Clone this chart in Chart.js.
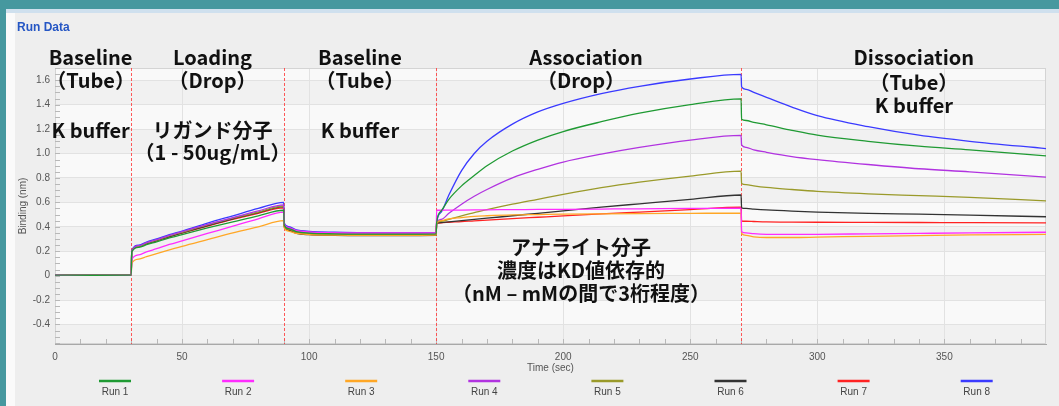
<!DOCTYPE html>
<html>
<head>
<meta charset="utf-8">
<script src="https://cdn.jsdelivr.net/npm/chart.js@4.4.0/dist/chart.umd.min.js"></script>
<style>
  html, body { margin: 0; padding: 0; }
  body { width: 1059px; height: 406px; background: #46989f; position: relative; overflow: hidden; }
  #frame { position: absolute; left: 6px; top: 9px; width: 1053px; height: 397px; background: #fafafa; }
  #topbar { position: absolute; left: 6px; top: 9px; width: 1053px; height: 4px; background: #cfe0ee; }
  #panel { position: absolute; left: 15px; top: 13px; width: 1044px; height: 393px; background: #eeeeee; }
  #title { position: absolute; left: 17px; top: 20px; font: bold 12px "Liberation Sans Narrow", Arial, sans-serif; color: #2556c4; }
  #myChart { position: absolute; left: 0; top: 0; }
</style>
</head>
<body>
<div id="frame"></div>
<div id="topbar"></div>
<div id="panel"><canvas id="myChart" width="1044" height="393"></canvas></div>
<div id="title">Run Data</div>

<script>
// time axis (sec), shared by every run
const tiempos = [0, 15, 30,
  30.2, 33, 36, 40, 45, 50, 60, 70, 80, 90,
  90.2, 92, 95, 100, 110, 120, 135, 150,
  150.2, 152, 155, 160, 165, 170, 180, 190, 200, 215, 230, 250, 270,
  270.2, 272, 275, 280, 290, 300, 320, 340, 360, 390];

const run1 = [0.004, 0.003, 0.004,
  0.195, 0.232, 0.253, 0.277, 0.308, 0.336, 0.39, 0.44, 0.49, 0.535,
  0.415, 0.385, 0.36, 0.348, 0.342, 0.34, 0.34, 0.342,
  0.435, 0.53, 0.625, 0.735, 0.82, 0.9, 1.02, 1.11, 1.18, 1.26, 1.33, 1.4, 1.448,
  1.28, 1.27, 1.255, 1.235, 1.19, 1.15, 1.1, 1.06, 1.03, 0.98];
const run2 = [0.003, 0.002, 0.003,
  0.13, 0.17, 0.195, 0.22, 0.255, 0.285, 0.345, 0.405, 0.465, 0.52,
  0.42, 0.39, 0.368, 0.356, 0.35, 0.348, 0.348, 0.35,
  0.535, 0.535, 0.536, 0.537, 0.538, 0.539, 0.54, 0.542, 0.543, 0.545, 0.547, 0.55, 0.552,
  0.36, 0.35, 0.343, 0.338, 0.337, 0.338, 0.342, 0.346, 0.35, 0.355];
const run3 = [0.002, 0.002, 0.003,
  0.1, 0.135, 0.155, 0.18, 0.21, 0.24, 0.295, 0.35, 0.4, 0.45,
  0.39, 0.365, 0.345, 0.336, 0.332, 0.33, 0.33, 0.332,
  0.43, 0.45, 0.465, 0.475, 0.485, 0.49, 0.497, 0.5, 0.503, 0.506, 0.508, 0.51, 0.512,
  0.345, 0.33, 0.318, 0.312, 0.312, 0.315, 0.322, 0.328, 0.333, 0.338];
const run4 = [0.005, 0.004, 0.005,
  0.2, 0.245, 0.27, 0.295, 0.33, 0.36, 0.42, 0.475, 0.53, 0.58,
  0.425, 0.395, 0.37, 0.358, 0.352, 0.35, 0.35, 0.352,
  0.435, 0.46, 0.51, 0.585, 0.65, 0.705, 0.8, 0.87, 0.93, 0.995, 1.05, 1.11, 1.148,
  1.07, 1.05, 1.03, 1.01, 0.975, 0.95, 0.91, 0.875, 0.85, 0.806];
const run5 = [0.004, 0.003, 0.004,
  0.2, 0.24, 0.265, 0.29, 0.325, 0.355, 0.415, 0.47, 0.52, 0.57,
  0.41, 0.38, 0.356, 0.345, 0.34, 0.338, 0.338, 0.34,
  0.435, 0.445, 0.46, 0.49, 0.515, 0.54, 0.585, 0.625, 0.665, 0.72, 0.765, 0.815, 0.855,
  0.755, 0.745, 0.735, 0.722, 0.705, 0.69, 0.67, 0.655, 0.64, 0.612];
const run6 = [0.003, 0.003, 0.003,
  0.2, 0.24, 0.262, 0.287, 0.32, 0.35, 0.41, 0.465, 0.515, 0.565,
  0.4, 0.37, 0.345, 0.335, 0.33, 0.328, 0.328, 0.33,
  0.43, 0.434, 0.44, 0.45, 0.46, 0.47, 0.49, 0.51, 0.53, 0.56, 0.588, 0.625, 0.66,
  0.555, 0.55, 0.545, 0.538, 0.528, 0.52, 0.51, 0.503, 0.495, 0.482];
const run7 = [0.004, 0.004, 0.004,
  0.2, 0.238, 0.26, 0.285, 0.318, 0.348, 0.405, 0.46, 0.51, 0.555,
  0.405, 0.375, 0.35, 0.338, 0.333, 0.331, 0.331, 0.333,
  0.43, 0.433, 0.437, 0.442, 0.449, 0.455, 0.467, 0.478, 0.489, 0.505, 0.52, 0.54, 0.56,
  0.447, 0.445, 0.443, 0.44, 0.438, 0.437, 0.436, 0.435, 0.434, 0.432];
const run8 = [0.005, 0.005, 0.005,
  0.205, 0.25, 0.275, 0.3, 0.335, 0.365, 0.43, 0.49, 0.55, 0.6,
  0.43, 0.4, 0.375, 0.362, 0.355, 0.352, 0.35, 0.35,
  0.435, 0.52, 0.66, 0.86, 1.0, 1.1, 1.24, 1.34, 1.41, 1.49, 1.55, 1.61, 1.648,
  1.545, 1.525, 1.5, 1.46, 1.38, 1.31, 1.22, 1.15, 1.1, 1.04];

const nombres = ['Run 1', 'Run 2', 'Run 3', 'Run 4', 'Run 5', 'Run 6', 'Run 7', 'Run 8'];
const colores = ['#1f9a33', '#ff2cff', '#ffa726', '#b133e0', '#9a9a2a', '#333333', '#ff2222', '#3a3aff'];
const corridas = [run1, run2, run3, run4, run5, run6, run7, run8];

// step boundaries (sec) and tick labels
const cambiosFase = [30, 90, 150, 270];
const xTicks = [0, 50, 100, 150, 200, 250, 300, 350];
const yTicks = [-0.4, -0.2, 0, 0.2, 0.4, 0.6, 0.8, 1.0, 1.2, 1.4, 1.6];

// text notes on the plot: x in sec, y in canvas px
const notas = [
  { t: 14, y: 44, txt: 'Baseline' }, { t: 14, y: 67, txt: '（Tube）' }, { t: 14, y: 117, txt: 'K buffer' },
  { t: 62, y: 44, txt: 'Loading' }, { t: 62, y: 67, txt: '（Drop）' },
  { t: 62, y: 117, txt: 'リガンド分子' }, { t: 62, y: 139, txt: '（1 - 50ug/mL）' },
  { t: 120, y: 44, txt: 'Baseline' }, { t: 120, y: 67, txt: '（Tube）' }, { t: 120, y: 117, txt: 'K buffer' },
  { t: 209, y: 44, txt: 'Association' }, { t: 207, y: 67, txt: '（Drop）' },
  { t: 338, y: 44, txt: 'Dissociation' }, { t: 338, y: 69, txt: '（Tube）' }, { t: 338, y: 92, txt: 'K buffer' },
  { t: 207, y: 234, txt: 'アナライト分子' }, { t: 207, y: 257, txt: '濃度はKD値依存的' },
  { t: 207, y: 280, txt: '（nM – mMの間で3桁程度）' }
];

const datasets = corridas.map((valores, i) => ({
  label: nombres[i],
  data: tiempos.map((t, j) => ({ x: t, y: valores[j] })),
  borderColor: colores[i],
  backgroundColor: colores[i],
  borderWidth: 1.3,
  pointRadius: 0,
  fill: false,
  cubicInterpolationMode: 'monotone'
}));

const fondoPlugin = {
  id: 'fondo',
  beforeDraw(chart) {
    const { ctx, chartArea: a, scales: { y } } = chart;
    ctx.save();
    ctx.fillStyle = '#f9f9f9';
    ctx.fillRect(a.left, a.top, a.right - a.left, a.bottom - a.top);
    ctx.fillStyle = '#f1f1f1';
    for (let v = -0.6; v < 1.7; v += 0.4) {
      const y1 = Math.max(a.top, y.getPixelForValue(v + 0.2));
      const y2 = Math.min(a.bottom, y.getPixelForValue(v));
      if (y2 > y1) ctx.fillRect(a.left, y1, a.right - a.left, y2 - y1);
    }
    ctx.restore();
  },
  beforeDatasetsDraw(chart) {
    const { ctx, chartArea: a, scales: { x, y } } = chart;
    ctx.save();
    ctx.strokeStyle = '#d4d4d4';
    ctx.lineWidth = 1;
    ctx.strokeRect(a.left + 0.5, a.top + 0.5, a.right - a.left - 1, a.bottom - a.top - 1);
    // minor ticks inside the plot
    ctx.strokeStyle = '#b8b8b8';
    ctx.beginPath();
    for (let k = -11; k <= 34; k++) {
      const py = Math.round(y.getPixelForValue(k * 0.05)) + 0.5;
      if (py < a.top || py > a.bottom) continue;
      ctx.moveTo(a.left, py);
      ctx.lineTo(a.left + 5, py);
    }
    for (let t = 10; t < 390; t += 10) {
      const px = Math.round(x.getPixelForValue(t)) + 0.5;
      ctx.moveTo(px, a.bottom);
      ctx.lineTo(px, a.bottom - 5);
    }
    ctx.stroke();
    // step boundaries
    ctx.strokeStyle = 'rgba(255, 60, 60, 0.85)';
    ctx.setLineDash([3, 2]);
    ctx.beginPath();
    cambiosFase.forEach(t => {
      const px = Math.round(x.getPixelForValue(t)) + 0.5;
      ctx.moveTo(px, a.top);
      ctx.lineTo(px, a.bottom);
    });
    ctx.stroke();
    ctx.restore();
  },
  afterDraw(chart) {
    const { ctx, scales: { x } } = chart;
    ctx.save();
    ctx.fillStyle = '#111111';
    ctx.font = 'bold 20px "Noto Sans CJK JP", sans-serif';
    ctx.textAlign = 'center';
    ctx.textBaseline = 'middle';
    notas.forEach(n => ctx.fillText(n.txt, x.getPixelForValue(n.t), n.y));

    // legend: short line with label underneath
    ctx.font = '10px Arial, "Liberation Sans", sans-serif';
    ctx.fillStyle = '#444444';
    chart.data.datasets.forEach((ds, i) => {
      const cx = 100 + i * 123.1;
      ctx.strokeStyle = ds.borderColor;
      ctx.lineWidth = 2.5;
      ctx.beginPath();
      ctx.moveTo(cx - 16, 368);
      ctx.lineTo(cx + 16, 368);
      ctx.stroke();
      ctx.fillText(ds.label, cx, 379);
    });
    ctx.restore();
  }
};

new Chart(document.getElementById('myChart'), {
  type: 'line',
  data: { datasets: datasets },
  options: {
    responsive: false,
    animation: false,
    layout: { padding: { top: 55, right: 13, bottom: 32, left: 0 } },
    plugins: { legend: { display: false }, tooltip: { enabled: false } },
    scales: {
      x: {
        type: 'linear', min: 0, max: 390,
        afterBuildTicks: s => { s.ticks = xTicks.map(v => ({ value: v })); },
        afterFit: s => { s.height = 30; },
        grid: { color: '#e2e2e2', drawTicks: false },
        border: { color: '#a8a8a8' },
        ticks: { padding: 7, color: '#555', font: { size: 10, family: 'Arial' } },
        title: { display: true, text: 'Time (sec)', color: '#555', font: { size: 10, family: 'Arial' }, padding: 0 }
      },
      y: {
        min: -0.56, max: 1.7,
        afterBuildTicks: s => { s.ticks = yTicks.map(v => ({ value: v })); },
        afterFit: s => { s.width = 40; },
        grid: { color: '#e2e2e2', drawTicks: false },
        border: { color: '#a8a8a8' },
        ticks: {
          padding: 5, color: '#555', font: { size: 10, family: 'Arial' },
          callback: v => Math.abs(v) < 1e-9 ? '0' : Number(v).toFixed(1)
        },
        title: { display: true, text: 'Binding (nm)', color: '#555', font: { size: 10, family: 'Arial' }, padding: 2 }
      }
    }
  },
  plugins: [fondoPlugin]
});
</script>
</body>
</html>
